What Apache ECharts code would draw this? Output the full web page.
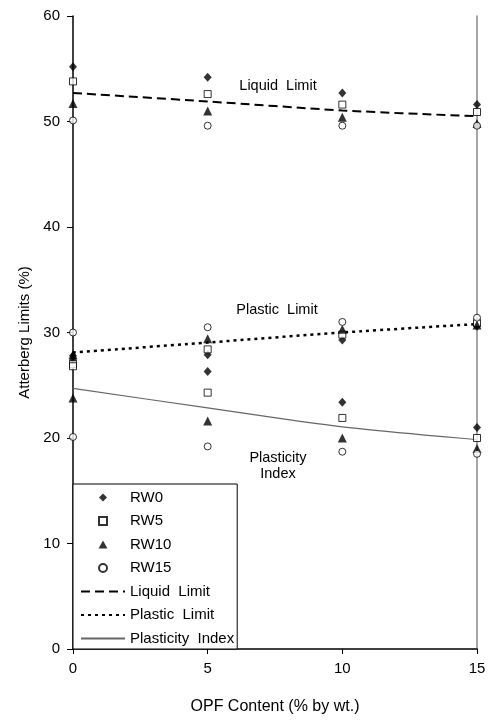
<!DOCTYPE html>
<html>
<head>
<meta charset="utf-8">
<title>Atterberg Limits</title>
<script src="https://cdn.jsdelivr.net/npm/echarts@6.0.0/dist/echarts.min.js"></script>
<style>
  html, body { margin: 0; padding: 0; background: #fff; }
  #charts { width: 489px; height: 720px; }
</style>
</head>
<body>
<div id="charts"></div>
<script>
// OPF content (% by wt.)
var opfContent = [0, 5, 10, 15];

// measured limits per mix: liquid limit, plastic limit, plasticity index
var rw0LL = [55.2, 54.2, 52.7, 51.6];
var rw0PL = [27.8, 27.9, 29.3, 30.6];
var rw0PI = [27.4, 26.3, 23.4, 21.0];

var rw5LL = [53.8, 52.6, 51.6, 50.9];
var rw5PL = [27.0, 28.4, 29.8, 30.9];
var rw5PI = [26.8, 24.3, 21.9, 20.0];

var rw10LL = [51.7, 51.0, 50.4, 49.8];
var rw10PL = [27.9, 29.4, 30.3, 30.7];
var rw10PI = [23.8, 21.6, 20.0, 19.0];

var rw15LL = [50.1, 49.6, 49.6, 49.6];
var rw15PL = [30.0, 30.5, 31.0, 31.4];
var rw15PI = [20.1, 19.2, 18.7, 18.5];

// trend lines
var liquidTrend = [52.7, 51.9, 51.05, 50.5];
var plasticTrend = [28.1, 29.05, 30.0, 30.8];
var indexTrend = [24.7, 22.85, 21.05, 19.85];

var yTicks = { min: 0, max: 60, interval: 10 };
var xTicks = { min: 0, max: 15, interval: 5 };

var FONT = 'Liberation Sans, Arial, sans-serif';

function points(ll, pl, pi) {
    var out = [];
    [ll, pl, pi].forEach(function (arr) {
        arr.forEach(function (v, i) {
            out.push([opfContent[i], v]);
        });
    });
    return out;
}

function pairs(arr) {
    return arr.map(function (v, i) { return [opfContent[i], v]; });
}

// legend icons as paths so they keep their aspect inside the wide icon box
var ICON_DIAMOND = 'path://M0,-1L1,0L0,1L-1,0Z';
var ICON_SQUARE = 'path://M0,0L1,0L1,1L0,1Z';
var ICON_TRIANGLE = 'path://M0,-1L1,0.8L-1,0.8Z';

function initECharts(myChart) {
    var filled = { color: '#000' };
    var hollow = { color: '#fff', borderColor: '#000', borderWidth: 1 };

    var option = {
        animation: false,
        backgroundColor: '#fff',
        textStyle: { fontFamily: FONT, color: '#000' },
        grid: { left: 73, right: 12, top: 16, bottom: 70 },
        xAxis: {
            type: 'value',
            min: xTicks.min,
            max: xTicks.max,
            interval: xTicks.interval,
            name: 'OPF Content (% by wt.)',
            nameLocation: 'middle',
            nameGap: 50,
            nameTextStyle: { fontSize: 16, color: '#000', fontFamily: FONT },
            axisLine: { lineStyle: { color: '#000', width: 1.5 } },
            axisTick: { length: 5, lineStyle: { color: '#000' } },
            axisLabel: { fontSize: 15, color: '#000', margin: 12, fontFamily: FONT },
            splitLine: { show: false }
        },
        yAxis: [
            {
                type: 'value',
                min: yTicks.min,
                max: yTicks.max,
                interval: yTicks.interval,
                name: 'Atterberg Limits (%)',
                nameLocation: 'middle',
                nameGap: 35,
                nameTextStyle: { fontSize: 15, color: '#000', fontFamily: FONT },
                axisLine: { show: true, lineStyle: { color: '#000', width: 1.5 } },
                axisTick: { show: true, length: 6, lineStyle: { color: '#000' } },
                axisLabel: { fontSize: 15, color: '#000', margin: 13, fontFamily: FONT },
                splitLine: { show: false }
            },
            {
                type: 'value',
                position: 'right',
                min: yTicks.min,
                max: yTicks.max,
                axisLine: { show: true, lineStyle: { color: '#888', width: 1.5 } },
                axisTick: { show: false },
                axisLabel: { show: false },
                splitLine: { show: false }
            }
        ],
        legend: {
            orient: 'vertical',
            left: 73,
            top: 484,
            backgroundColor: '#fff',
            borderColor: '#000',
            borderWidth: 1,
            borderRadius: 0,
            padding: [6, 3, 3, 7],
            itemWidth: 44,
            itemHeight: 8,
            itemGap: 8.5,
            symbolKeepAspect: true,
            textStyle: { fontSize: 15, color: '#000', fontFamily: FONT },
            data: [
                { name: 'RW0', icon: ICON_DIAMOND },
                { name: 'RW5', icon: ICON_SQUARE },
                { name: 'RW10', icon: ICON_TRIANGLE },
                { name: 'RW15', icon: 'circle' },
                { name: 'Liquid  Limit', itemStyle: { opacity: 0 } },
                { name: 'Plastic  Limit', itemStyle: { opacity: 0 } },
                { name: 'Plasticity  Index', itemStyle: { opacity: 0 } }
            ]
        },
        graphic: [
            {
                type: 'text', x: 278, y: 86,
                style: { text: 'Liquid  Limit', align: 'center', verticalAlign: 'middle', fontSize: 14.5, fontFamily: FONT, fill: '#000' }
            },
            {
                type: 'text', x: 277, y: 310,
                style: { text: 'Plastic  Limit', align: 'center', verticalAlign: 'middle', fontSize: 14.5, fontFamily: FONT, fill: '#000' }
            },
            {
                type: 'text', x: 278, y: 466,
                style: { text: 'Plasticity\nIndex', align: 'center', verticalAlign: 'middle', lineHeight: 16, fontSize: 14.5, fontFamily: FONT, fill: '#000' }
            }
        ],
        series: [
            {
                name: 'Liquid  Limit', type: 'line', smooth: 0.3, symbol: 'none',
                lineStyle: { color: '#000', width: 2, type: [9, 5] },
                itemStyle: { color: '#000' },
                data: pairs(liquidTrend), z: 2
            },
            {
                name: 'Plastic  Limit', type: 'line', smooth: 0.3, symbol: 'none',
                lineStyle: { color: '#000', width: 2.5, type: [3, 4] },
                itemStyle: { color: '#000' },
                data: pairs(plasticTrend), z: 2
            },
            {
                name: 'Plasticity  Index', type: 'line', smooth: 0.3, symbol: 'none',
                lineStyle: { color: '#666', width: 1.2 },
                itemStyle: { color: '#666' },
                data: pairs(indexTrend), z: 2
            },
            {
                name: 'RW0', type: 'scatter', symbol: 'diamond', symbolSize: [8, 9],
                itemStyle: filled, data: points(rw0LL, rw0PL, rw0PI), z: 3
            },
            {
                name: 'RW5', type: 'scatter', symbol: 'rect', symbolSize: 7,
                itemStyle: hollow, data: points(rw5LL, rw5PL, rw5PI), z: 3
            },
            {
                name: 'RW10', type: 'scatter', symbol: 'triangle', symbolSize: [9, 9],
                itemStyle: filled, data: points(rw10LL, rw10PL, rw10PI), z: 3
            },
            {
                name: 'RW15', type: 'scatter', symbol: 'circle', symbolSize: 7,
                itemStyle: hollow, data: points(rw15LL, rw15PL, rw15PI), z: 3
            }
        ]
    };

    myChart.setOption(option);
}

window.onload = function () {
    var myChart = echarts.init(document.getElementById('charts'));
    initECharts(myChart);
};
</script>
</body>
</html>
